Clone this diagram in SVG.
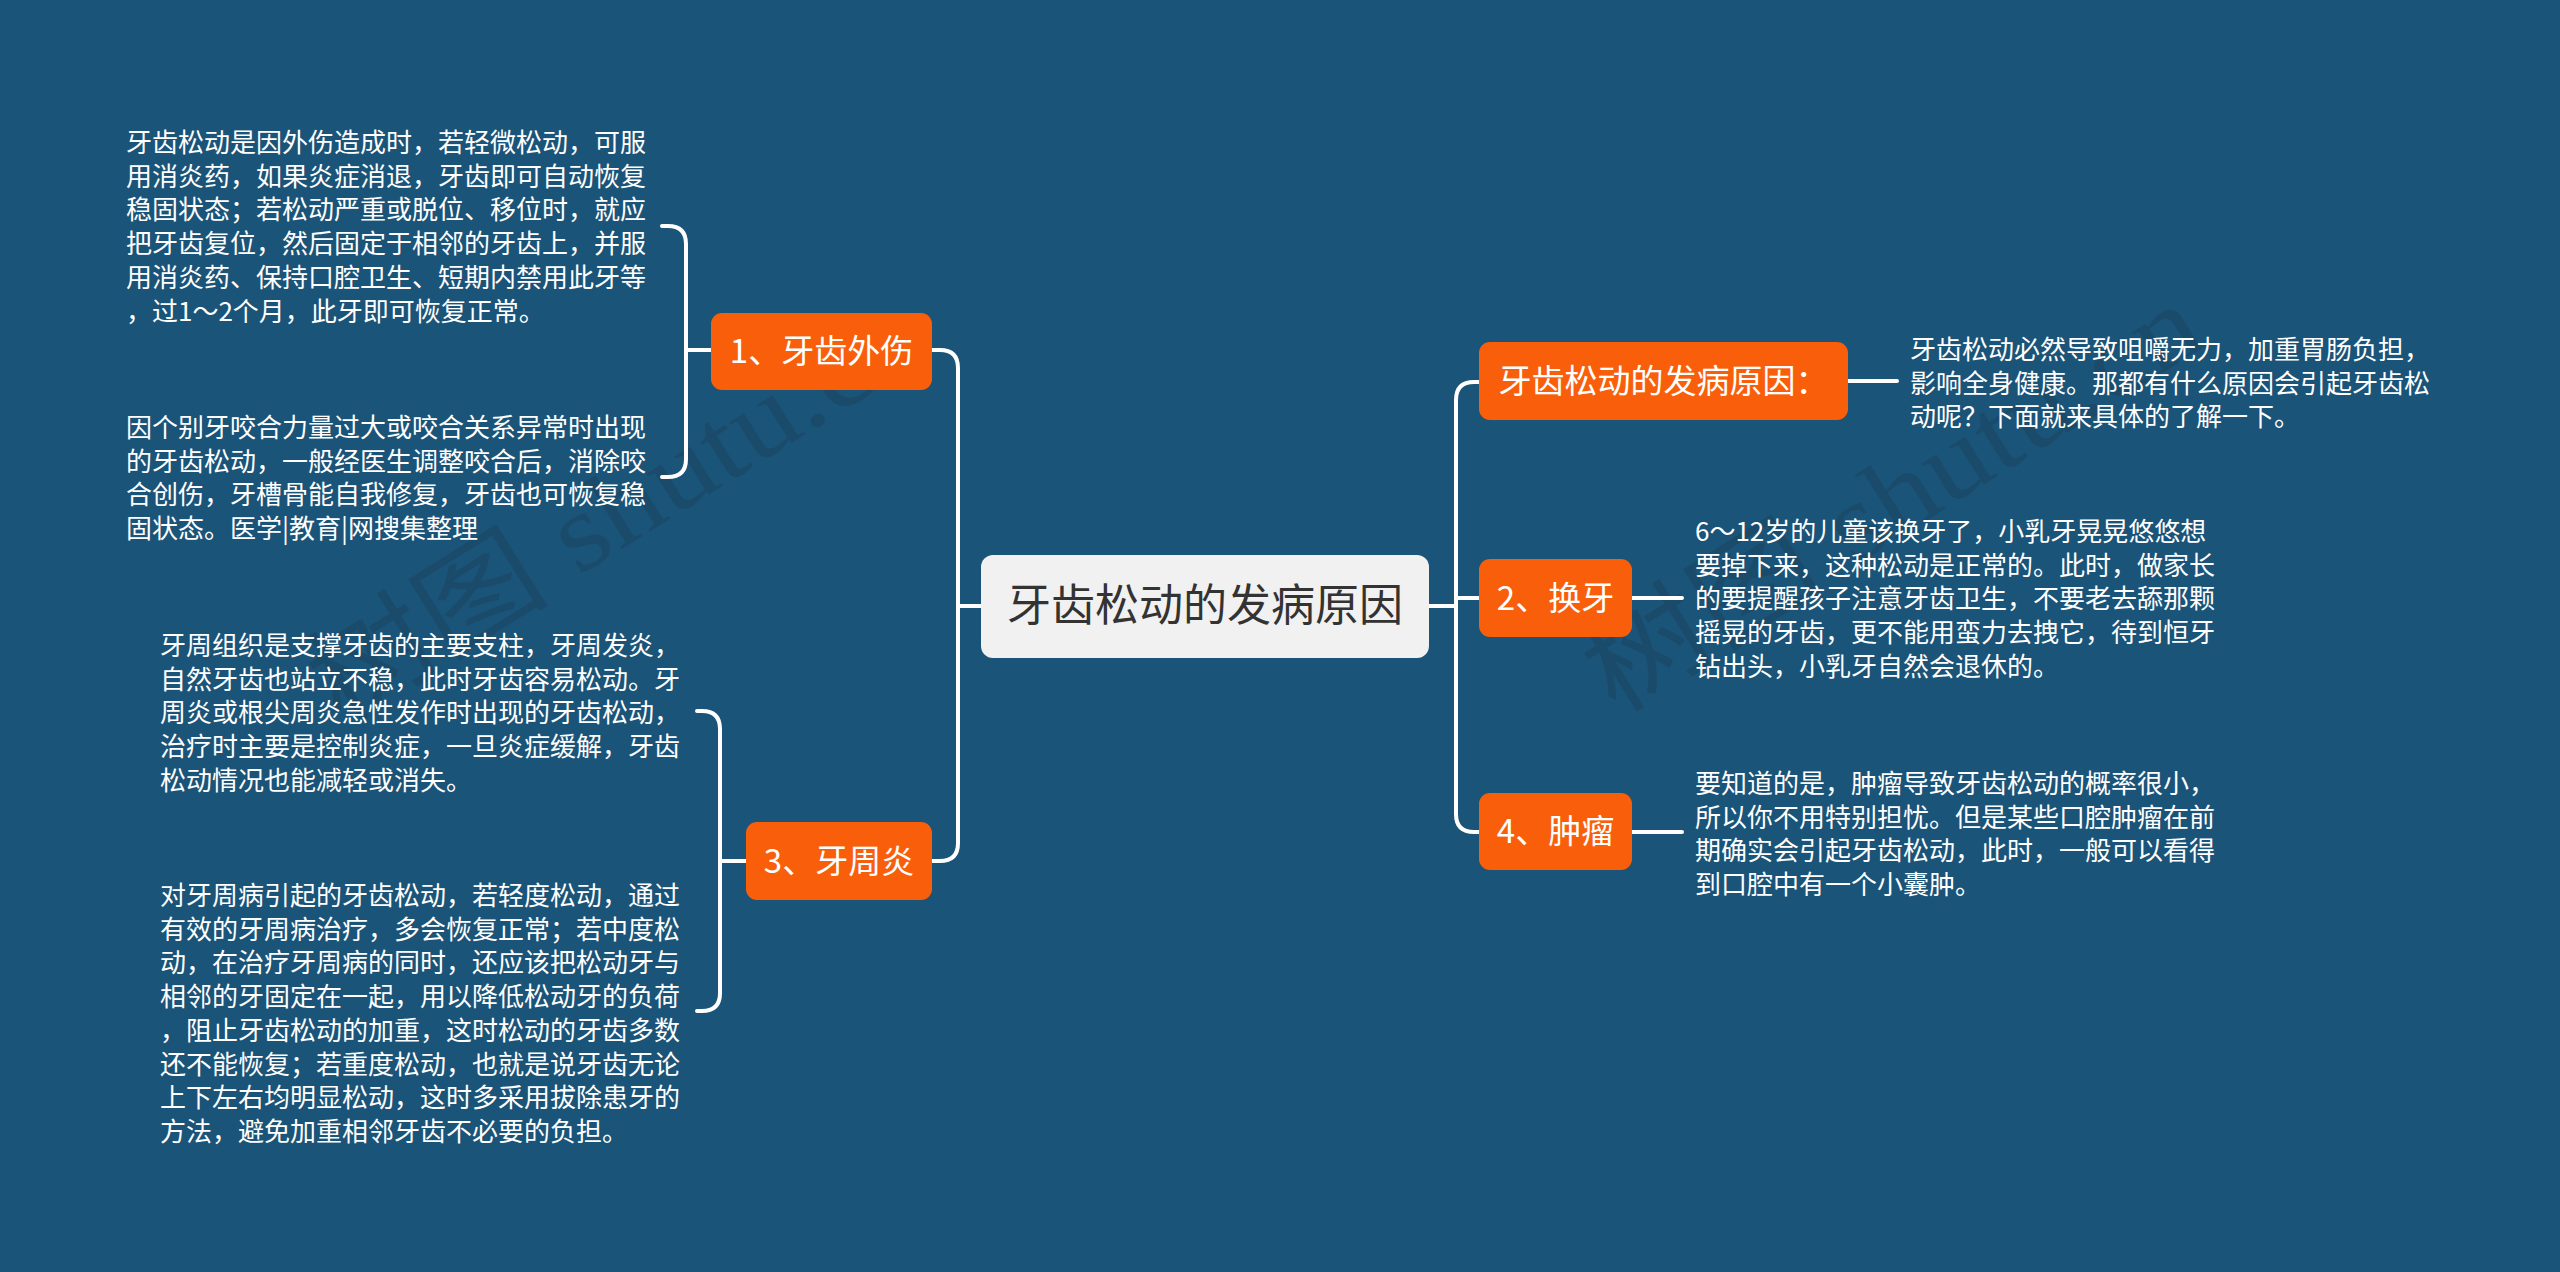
<svg xmlns="http://www.w3.org/2000/svg" width="2560" height="1272" viewBox="0 0 2560 1272">
<style>
.bg{fill:#1b5479}
.conn path{fill:none;stroke:#ffffff;stroke-width:4;stroke-linecap:round;stroke-linejoin:round}
.topic{fill:#f95f0b}
.center{fill:#f1f1f1}
.tt{font-family:"Noto Sans CJK SC","Noto Sans",sans-serif;font-size:33px;fill:#ffffff;text-anchor:middle}
.ct{font-family:"Noto Sans CJK SC","Noto Sans",sans-serif;font-size:44px;fill:#333333;text-anchor:middle}
.body{font-family:"Noto Sans CJK SC","Noto Sans",sans-serif;font-size:26px;fill:#ffffff}
.wm{font-family:"Liberation Serif","Noto Sans CJK SC",serif;font-size:110px;fill:#222222;fill-opacity:0.16}
</style>
<rect class="bg" x="0" y="0" width="2560" height="1272"/>

<g id="watermarks">
<text class="wm" x="340" y="725" transform="rotate(-32 340 725)" textLength="700" lengthAdjust="spacingAndGlyphs">树图 shutu.cn</text>
<text class="wm" x="1615" y="715" transform="rotate(-32 1615 715)" textLength="700" lengthAdjust="spacingAndGlyphs">树图 shutu.cn</text>
</g>

<g id="connectors" class="conn">
<path d="M981 606 H958"/>
<path d="M932 350 H940 Q958 350 958 368 V606"/>
<path d="M932 861 H940 Q958 861 958 843 V606"/>
<path d="M711 350 H686"/>
<path d="M662 226 H668 Q686 226 686 244 V459 Q686 477 668 477 H662"/>
<path d="M746 861 H720"/>
<path d="M697 711 H702 Q720 711 720 729 V993 Q720 1011 702 1011 H697"/>
<path d="M1429 606 H1456"/>
<path d="M1479 382 H1474 Q1456 382 1456 400 V606"/>
<path d="M1479 598 H1456"/>
<path d="M1479 832 H1474 Q1456 832 1456 814 V606"/>
<path d="M1848 381 H1897"/>
<path d="M1632 598 H1682"/>
<path d="M1632 832 H1682"/>
</g>

<g id="center">
<rect class="center" x="981" y="555" width="448" height="103" rx="12"/>
<text class="ct" x="1205" y="621">牙齿松动的发病原因</text>
</g>

<g id="topic1">
<rect class="topic" x="711" y="313" width="221" height="77" rx="11"/>
<text class="tt" x="821.5" y="363">1、牙齿外伤</text>
</g>
<g id="topic1-text1">
<text class="body" x="126">
<tspan x="126" y="152">牙齿松动是因外伤造成时，若轻微松动，可服</tspan>
<tspan x="126" y="185.7">用消炎药，如果炎症消退，牙齿即可自动恢复</tspan>
<tspan x="126" y="219.4">稳固状态；若松动严重或脱位、移位时，就应</tspan>
<tspan x="126" y="253.1">把牙齿复位，然后固定于相邻的牙齿上，并服</tspan>
<tspan x="126" y="286.8">用消炎药、保持口腔卫生、短期内禁用此牙等</tspan>
<tspan x="126" y="320.5">，过1～2个月，此牙即可恢复正常。</tspan>
</text>
</g>
<g id="topic1-text2">
<text class="body">
<tspan x="126" y="437">因个别牙咬合力量过大或咬合关系异常时出现</tspan>
<tspan x="126" y="470.7">的牙齿松动，一般经医生调整咬合后，消除咬</tspan>
<tspan x="126" y="504.4">合创伤，牙槽骨能自我修复，牙齿也可恢复稳</tspan>
<tspan x="126" y="538.1">固状态。医学|教育|网搜集整理</tspan>
</text>
</g>

<g id="topic3">
<rect class="topic" x="746" y="822" width="186" height="78" rx="11"/>
<text class="tt" x="839" y="873">3、牙周炎</text>
</g>
<g id="topic3-text1">
<text class="body">
<tspan x="160" y="655">牙周组织是支撑牙齿的主要支柱，牙周发炎，</tspan>
<tspan x="160" y="688.7">自然牙齿也站立不稳，此时牙齿容易松动。牙</tspan>
<tspan x="160" y="722.4">周炎或根尖周炎急性发作时出现的牙齿松动，</tspan>
<tspan x="160" y="756.1">治疗时主要是控制炎症，一旦炎症缓解，牙齿</tspan>
<tspan x="160" y="789.8">松动情况也能减轻或消失。</tspan>
</text>
</g>
<g id="topic3-text2">
<text class="body">
<tspan x="160" y="905">对牙周病引起的牙齿松动，若轻度松动，通过</tspan>
<tspan x="160" y="938.7">有效的牙周病治疗，多会恢复正常；若中度松</tspan>
<tspan x="160" y="972.4">动，在治疗牙周病的同时，还应该把松动牙与</tspan>
<tspan x="160" y="1006.1">相邻的牙固定在一起，用以降低松动牙的负荷</tspan>
<tspan x="160" y="1039.8">，阻止牙齿松动的加重，这时松动的牙齿多数</tspan>
<tspan x="160" y="1073.5">还不能恢复；若重度松动，也就是说牙齿无论</tspan>
<tspan x="160" y="1107.2">上下左右均明显松动，这时多采用拔除患牙的</tspan>
<tspan x="160" y="1140.9">方法，避免加重相邻牙齿不必要的负担。</tspan>
</text>
</g>

<g id="topic-intro">
<rect class="topic" x="1479" y="342" width="369" height="78" rx="11"/>
<text class="tt" x="1663.5" y="393">牙齿松动的发病原因：</text>
</g>
<g id="topic-intro-text">
<text class="body">
<tspan x="1910" y="359">牙齿松动必然导致咀嚼无力，加重胃肠负担，</tspan>
<tspan x="1910" y="392.7">影响全身健康。那都有什么原因会引起牙齿松</tspan>
<tspan x="1910" y="426.4">动呢？下面就来具体的了解一下。</tspan>
</text>
</g>

<g id="topic2">
<rect class="topic" x="1479" y="559" width="153" height="78" rx="11"/>
<text class="tt" x="1555.5" y="610">2、换牙</text>
</g>
<g id="topic2-text">
<text class="body">
<tspan x="1695" y="541">6～12岁的儿童该换牙了，小乳牙晃晃悠悠想</tspan>
<tspan x="1695" y="574.7">要掉下来，这种松动是正常的。此时，做家长</tspan>
<tspan x="1695" y="608.4">的要提醒孩子注意牙齿卫生，不要老去舔那颗</tspan>
<tspan x="1695" y="642.1">摇晃的牙齿，更不能用蛮力去拽它，待到恒牙</tspan>
<tspan x="1695" y="675.8">钻出头，小乳牙自然会退休的。</tspan>
</text>
</g>

<g id="topic4">
<rect class="topic" x="1479" y="793" width="153" height="77" rx="11"/>
<text class="tt" x="1555.5" y="843">4、肿瘤</text>
</g>
<g id="topic4-text">
<text class="body">
<tspan x="1695" y="793">要知道的是，肿瘤导致牙齿松动的概率很小，</tspan>
<tspan x="1695" y="826.7">所以你不用特别担忧。但是某些口腔肿瘤在前</tspan>
<tspan x="1695" y="860.4">期确实会引起牙齿松动，此时，一般可以看得</tspan>
<tspan x="1695" y="894.1">到口腔中有一个小囊肿。</tspan>
</text>
</g>
</svg>
